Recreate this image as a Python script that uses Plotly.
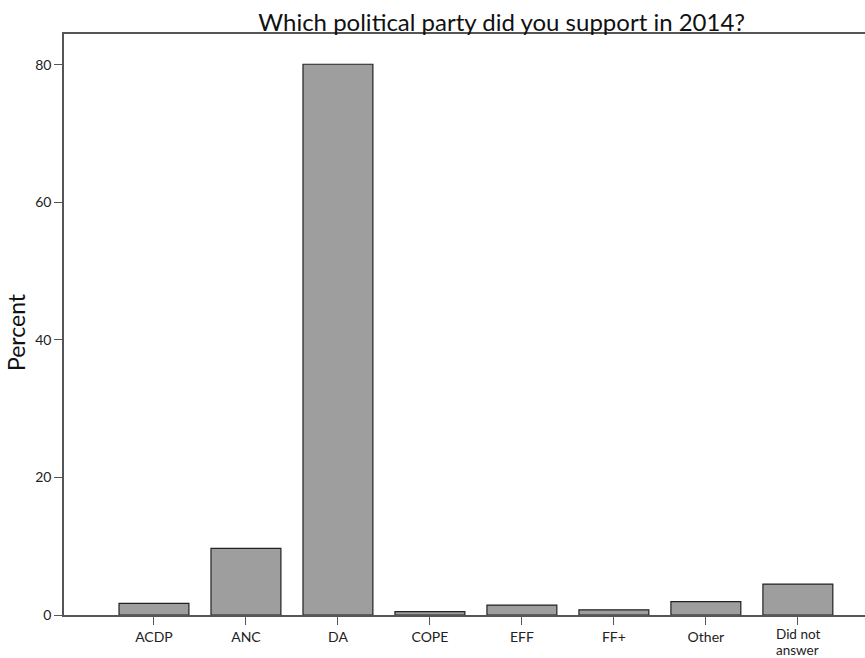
import plotly.graph_objects as go

categories = ["ACDP", "ANC", "DA", "COPE", "EFF", "FF+", "Other", "Did not answer"]
percent = [1.7, 9.7, 80.1, 0.5, 1.45, 0.75, 1.95, 4.5]
y_ticks = [0, 20, 40, 60, 80]

font_family = "Lato, Open Sans, sans-serif"

# single-line labels go on the axis; the two-line label is set as two text lines
tick_text = []
wrapped = {}
for i, c in enumerate(categories):
    if c == "Did not answer":
        tick_text.append("")
        wrapped[i] = ["Did not", "answer"]
    else:
        tick_text.append(c)

fig = go.Figure()
fig.add_trace(go.Bar(
    x=list(range(len(categories))),
    y=percent,
    width=0.76,
    marker=dict(color="#9d9e9d", line=dict(color="#222222", width=1.2)),
))

for i, lines in wrapped.items():
    for k, t in enumerate(lines):
        fig.add_annotation(x=i, xref="x", y=0, yref="paper", yanchor="middle",
                           yshift=-19 - 16 * k, text=t, showarrow=False,
                           font=dict(size=13.5, color="#222222", family=font_family))

fig.update_layout(
    width=865, height=658,
    margin=dict(l=64, r=0, t=34, b=43),
    plot_bgcolor="white", paper_bgcolor="white",
    showlegend=False,
    font=dict(family=font_family, color="#222222"),
    title=dict(text="Which political party did you support in 2014?",
               x=0.58, xanchor="center", y=0.966, yanchor="middle",
               font=dict(size=24, color="#111111", family=font_family)),
    xaxis=dict(
        range=[-0.978, 7.73],
        tickmode="array", tickvals=list(range(len(categories))), ticktext=tick_text,
        showline=True, linecolor="#555555", linewidth=1.5, mirror=True,
        ticks="outside", ticklen=8, tickcolor="#555555", tickwidth=1.2,
        showgrid=False, zeroline=False, automargin=False,
        tickfont=dict(size=14, color="#222222"),
    ),
    yaxis=dict(
        range=[0, 84.5],
        tickmode="array", tickvals=y_ticks,
        showline=True, linecolor="#555555", linewidth=1.5,
        ticks="outside", ticklen=8, tickcolor="#555555", tickwidth=1.2,
        showgrid=False, zeroline=False, automargin=False,
        tickfont=dict(size=14, color="#222222"),
    ),
)
fig.add_annotation(text="Percent", textangle=-90, xref="paper", yref="paper",
                   x=(16 - 64) / 801, y=(615 - 332) / 581, xanchor="center", yanchor="middle",
                   showarrow=False, font=dict(size=23, color="#111111", family=font_family))

fig.write_html("out.html", config={"displayModeBar": False},
               post_script="document.body.style.margin='0';document.body.style.overflow='hidden';")
